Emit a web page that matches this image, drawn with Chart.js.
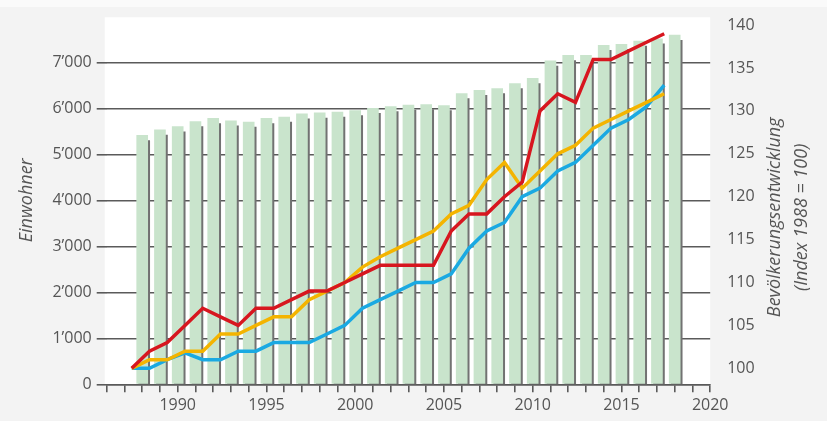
<!DOCTYPE html>
<html><head><meta charset="utf-8">
<script src="https://cdn.jsdelivr.net/npm/chart.js@4.4.1/dist/chart.umd.min.js"></script>
<style>
html,body{margin:0;padding:0;background:#f3f3f3;}
#wrap{position:relative;width:827px;height:421px;overflow:hidden;}
#band{position:absolute;left:0;top:0;width:827px;height:7px;background:#fafafa;}
canvas{position:absolute;left:0;top:0;}
</style></head><body>
<div id="wrap"><div id="band"></div><canvas id="c" width="827" height="421"></canvas></div>
<script>
// ---- data ----
const years = [1988,1989,1990,1991,1992,1993,1994,1995,1996,1997,1998,1999,2000,2001,2002,2003,2004,2005,2006,2007,2008,2009,2010,2011,2012,2013,2014,2015,2016,2017,2018];
const einwohner = [5410,5530,5600,5710,5780,5730,5700,5780,5810,5880,5900,5920,5950,6000,6040,6070,6080,6060,6320,6390,6430,6540,6650,7030,7150,7150,7370,7390,7460,7510,7590];
const indexRed = [100,102,103,105,107,106,105,107,107,108,109,109,110,111,112,112,112,112,116,118,118,120,121.7,130,132,131,136,136,137,138,139];
const indexYellow = [100,101,101,102,102,104,104,105,106,106,108,109,110,111.8,113,114,115,116,118,119,122,124,121,123,125,126,128,129,130,131,132];
const indexBlue = [100,100,101,101.8,101,101,102,102,103,103,103,104,105,107,108,109,110,110,111,114,116,117,120,121,123,124,126,128,129,130.5,133];
const xTickYears = [1986,1987,1988,1989,1990,1991,1992,1993,1994,1995,1996,1997,1998,1999,2000,2001,2002,2003,2004,2005,2006,2007,2008,2009,2010,2011,2012,2013,2014,2015,2016,2017,2018,2019,2020];
const xLabels = [1990,1995,2000,2005,2010,2015,2020];
const leftTicks = [0,1000,2000,3000,4000,5000,6000,7000];
const leftLabels = ['0','1’000','2’000','3’000','4’000','5’000','6’000','7’000'];
const rightTicks = [100,105,110,115,120,125,130,135,140];
const leftTitle = 'Einwohner';
const rightTitle = ['Bevölkerungsentwicklung','(Index 1988 = 100)'];

const FONT = '"Open Sans", "DejaVu Sans", sans-serif';
const TXT = '#555555';
const GRID = '#5a5a5a';

const pts = (vals) => years.map((y, i) => ({x: y, y: vals[i]}));

const fixBox = (w, h) => (scale) => {
  if (w !== null) scale.width = w;
  if (h !== null) scale.height = h;
  scale.paddingTop = 0; scale.paddingBottom = 0;
  scale.paddingLeft = 0; scale.paddingRight = 0;
};

const bgPlugin = {
  id: 'bg',
  beforeDraw(chart) {
    const {ctx, chartArea: a} = chart;
    ctx.save();
    ctx.fillStyle = '#ffffff';
    ctx.fillRect(a.left - 2, a.top + 1, a.right - a.left + 2, a.bottom - a.top - 1);
    ctx.restore();
  }
};

const rightTitlePlugin = {
  id: 'rtitle',
  afterDraw(chart) {
    const {ctx, chartArea: a} = chart;
    const cy = (a.top + a.bottom) / 2 + 17;
    const xs = [a.right + 65, a.right + 92];
    ctx.save();
    ctx.fillStyle = TXT;
    ctx.font = 'italic 18px ' + FONT;
    ctx.textAlign = 'center';
    ctx.textBaseline = 'middle';
    rightTitle.forEach((t, i) => {
      ctx.save();
      ctx.translate(xs[i], cy);
      ctx.rotate(-Math.PI / 2);
      ctx.fillText(t, 0, 0);
      ctx.restore();
    });
    ctx.restore();
  }
};

new Chart(document.getElementById('c'), {
  data: {
    datasets: [
      {type: 'line', label: 'rot', data: pts(indexRed), xAxisID: 'xl', yAxisID: 'yr',
       borderColor: '#d7161f', borderWidth: 3.5, pointRadius: 0, tension: 0, order: 0},
      {type: 'line', label: 'gelb', data: pts(indexYellow), xAxisID: 'xl', yAxisID: 'yr',
       borderColor: '#f4b400', borderWidth: 3.5, pointRadius: 0, tension: 0, order: 1},
      {type: 'line', label: 'blau', data: pts(indexBlue), xAxisID: 'xl', yAxisID: 'yr',
       borderColor: '#1aa9e2', borderWidth: 3.5, pointRadius: 0, tension: 0, order: 2},
      {type: 'bar', label: 'Einwohner', data: pts(einwohner), xAxisID: 'x', yAxisID: 'y',
       backgroundColor: '#c9e4cc', borderWidth: 0, barThickness: 11, grouped: false, order: 3},
      {type: 'bar', label: 'Schatten', data: pts(einwohner), xAxisID: 'xs', yAxisID: 'ys',
       backgroundColor: '#727272', borderWidth: 0, barThickness: 11, grouped: false, order: 4}
    ]
  },
  options: {
    responsive: false,
    animation: false,
    events: [],
    layout: {padding: {top: 16.3, left: 0, right: 0, bottom: 0}},
    plugins: {legend: {display: false}, tooltip: {enabled: false}},
    scales: {
      x: {
        type: 'linear', position: 'bottom', min: 1986, max: 2020, offset: false,
        afterBuildTicks: (s) => { s.ticks = xTickYears.map(v => ({value: v})); },
        afterFit: fixBox(null, 36.7),
        grid: {offset: false, drawOnChartArea: false, drawTicks: true, tickLength: 8, color: GRID, lineWidth: 1.6},
        border: {display: true, color: GRID, width: 1.6},
        ticks: {autoSkip: false, maxRotation: 0, padding: 4, color: TXT, font: {family: FONT, size: 16},
                callback: (v) => xLabels.includes(v) ? String(v) : ''}
      },
      xs: {
        type: 'linear', display: false, min: 1986 - 0.113, max: 2020 - 0.113, offset: false,
        grid: {offset: false}
      },
      xl: {
        type: 'linear', display: false, min: 1986.59, max: 2020.59, offset: false
      },
      y: {
        type: 'linear', position: 'left', min: 0, max: 8000,
        afterBuildTicks: (s) => { s.ticks = leftTicks.map(v => ({value: v})); },
        afterFit: fixBox(106.7, null),
        grid: {color: GRID, lineWidth: 1.6, drawTicks: true, tickLength: 10},
        border: {display: false},
        ticks: {padding: 5, color: TXT, font: {family: FONT, size: 16},
                callback: (v) => { const i = leftTicks.indexOf(v); return i >= 0 ? leftLabels[i] : ''; }},
        title: {display: true, text: leftTitle, color: TXT, padding: {top: 16, bottom: 0},
                font: {family: FONT, size: 18, style: 'italic'}}
      },
      ys: {
        type: 'linear', display: false, min: 110, max: 8110
      },
      yr: {
        type: 'linear', position: 'right', min: 98.135, max: 141.03,
        afterBuildTicks: (s) => { s.ticks = rightTicks.map(v => ({value: v})); },
        afterFit: fixBox(116.8, null),
        grid: {display: false, drawTicks: false, drawOnChartArea: false},
        border: {display: false},
        ticks: {padding: 17, color: TXT, font: {family: FONT, size: 16}}
      }
    }
  },
  plugins: [bgPlugin, rightTitlePlugin]
});
</script>
</body></html>
